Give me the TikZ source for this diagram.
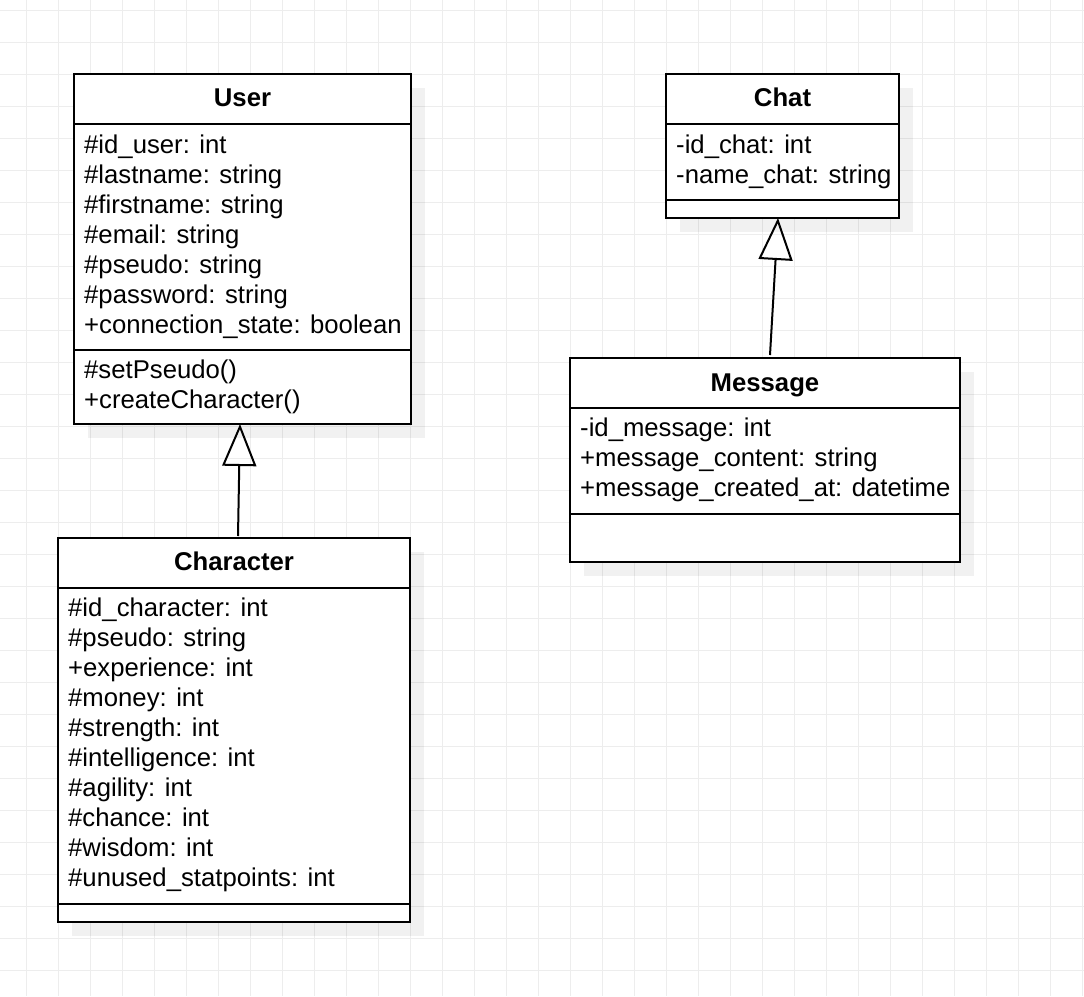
\documentclass[tikz,border=0pt]{standalone}
\usepackage{fontspec}
\setmainfont{Liberation Sans}
\usetikzlibrary{arrows.meta,shadows}

\tikzset{
  gridline/.style={draw=black!7, line width=1pt},
  classbox/.style={draw=black, line width=2pt, fill=white, inner sep=0pt, outer sep=0pt,
    anchor=north west,
    drop shadow={shadow xshift=14pt, shadow yshift=-14pt, fill=black, opacity=0.055}},
  divider/.style={draw=black, line width=2pt},
  title/.style={anchor=base, inner sep=0pt, font=\fontsize{25.7}{30}\selectfont\bfseries},
  member/.style={anchor=base west, inner sep=0pt, font=\fontsize{25.7}{30}\selectfont},
  generalization/.style={draw=black, line width=2pt,
    -{Triangle[open, length=42pt, width=34pt, line join=miter]}},
}

\begin{document}
\begin{tikzpicture}[x=1pt, y=-1pt]
\useasboundingbox (0,0) rectangle (1084,996);
\fill[white] (0,0) rectangle (1084,996);

% background grid
\foreach \i in {0,...,33} \draw[gridline] (26.7+32*\i,0) -- (26.7+32*\i,996);
\foreach \j in {0,...,31} \draw[gridline] (0,10+32*\j) -- (1084,10+32*\j);

% ---------- User ----------
\node[classbox, minimum width=337pt, minimum height=350pt] (user) at (74,74) {};
\draw[divider] (74,124) -- (411,124);
\draw[divider] (74,350) -- (411,350);
\node[title] (usertitle) at (242.5,106.5) {User};
\foreach \t [count=\i] in {\#id\_user: int, \#lastname: string, \#firstname: string,
    \#email: string, \#pseudo: string, \#password: string, +connection\_state: boolean}
  \node[member] (ua\i) at (84,153+30*\i-30) {\t};
\foreach \t [count=\i] in {\#setPseudo(), +createCharacter()}
  \node[member] (um\i) at (84,378+30*\i-30) {\t};

% ---------- Character ----------
\node[classbox, minimum width=352pt, minimum height=384pt] (character) at (58,538) {};
\draw[divider] (58,588) -- (410,588);
\draw[divider] (58,904) -- (410,904);
\node[title] (chartitle) at (234,570.5) {Character};
\foreach \t [count=\i] in {\#id\_character: int, \#pseudo: string, +experience: int,
    \#money: int, \#strength: int, \#intelligence: int, \#agility: int,
    \#chance: int, \#wisdom: int, \#unused\_statpoints: int}
  \node[member] (ca\i) at (68,616+30*\i-30) {\t};

% ---------- Chat ----------
\node[classbox, minimum width=233pt, minimum height=144pt] (chat) at (666,74) {};
\draw[divider] (666,124) -- (899,124);
\draw[divider] (666,200) -- (899,200);
\node[title] (chattitle) at (782.5,106.5) {Chat};
\foreach \t [count=\i] in {-id\_chat: int, -name\_chat: string}
  \node[member] (ha\i) at (676,153+30*\i-30) {\t};

% ---------- Message ----------
\node[classbox, minimum width=390pt, minimum height=204pt] (message) at (570,358) {};
\draw[divider] (570,408) -- (960,408);
\draw[divider] (570,514) -- (960,514);
\node[title] (msgtitle) at (765,391.5) {Message};
\foreach \t [count=\i] in {-id\_message: int, +message\_content: string,
    +message\_created\_at: datetime}
  \node[member] (ma\i) at (580,436.5+30*\i-30) {\t};

% ---------- inheritance ----------
\draw[generalization] ([xshift=4pt,yshift=2pt]character.north) -- ([xshift=-2.5pt]user.south);
\draw[generalization] ([xshift=5pt,yshift=3pt]message.north) -- ([xshift=-4.5pt]chat.south);
\end{tikzpicture}
\end{document}
